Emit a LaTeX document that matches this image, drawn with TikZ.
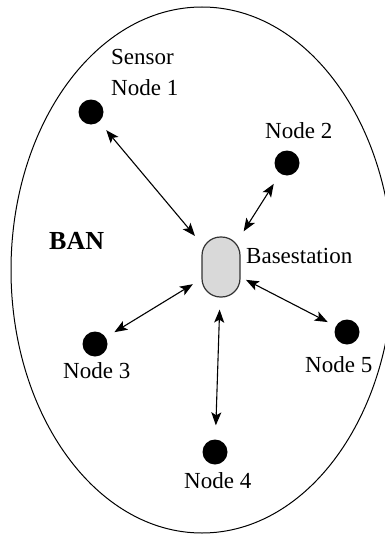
\documentclass[tikz,border=0pt]{standalone}
\usepackage{fontspec}
\setmainfont{Liberation Serif}
\usetikzlibrary{arrows.meta}
\begin{document}
\begin{tikzpicture}[x=1pt,y=-1pt,
  sensor/.style={circle,fill=black,minimum size=25pt,inner sep=0pt},
  lbl/.style={font=\fontsize{23}{31}\selectfont,inner sep=0pt,anchor=base west,align=left},
  link/.style={{Stealth[length=13pt,width=10pt,inset=3pt]}-{Stealth[length=13pt,width=10pt,inset=3pt]},line width=1.1pt},
  bs/.style={draw=black!80,line width=1.2pt,fill=black!15,rounded corners=18.5pt,minimum width=38pt,minimum height=60pt,inner sep=0pt}]
\useasboundingbox (0,0) rectangle (385,535);
\begin{scope}
\clip (0,0) rectangle (385,535);
\draw[line width=1pt] (202,270) ellipse [x radius=191pt, y radius=263pt];
\end{scope}
\node[bs] (base) at (221,267) {};
\node[sensor] (n1) at (91,112) {};
\node[sensor] (n2) at (287,163) {};
\node[sensor] (n3) at (95,344) {};
\node[sensor] (n4) at (215,452) {};
\node[sensor] (n5) at (347,332) {};
\node[lbl] (l1) at (111,95) {Sensor\\Node 1};
\node[lbl] (l2) at (265,138) {Node 2};
\node[lbl] (lb) at (246,263) {Basestation};
\node[lbl] (l3) at (63,378) {Node 3};
\node[lbl] (l4) at (184,488) {Node 4};
\node[lbl] (l5) at (305,372) {Node 5};
\node[lbl,font=\fontsize{26}{30}\selectfont\bfseries] (ban) at (49,249) {BAN};
\draw[link,shorten <=11pt,shorten >=10pt] (n1) -- (base);
\draw[link,shorten <=12pt,shorten >=6pt] (n2) -- (base);
\draw[link,shorten <=10pt,shorten >=10pt] (n3) -- (base);
\draw[link,shorten <=14pt,shorten >=12pt] (n4) -- (base);
\draw[link,shorten <=9pt,shorten >=6pt] (n5) -- (base);
\end{tikzpicture}
\end{document}
